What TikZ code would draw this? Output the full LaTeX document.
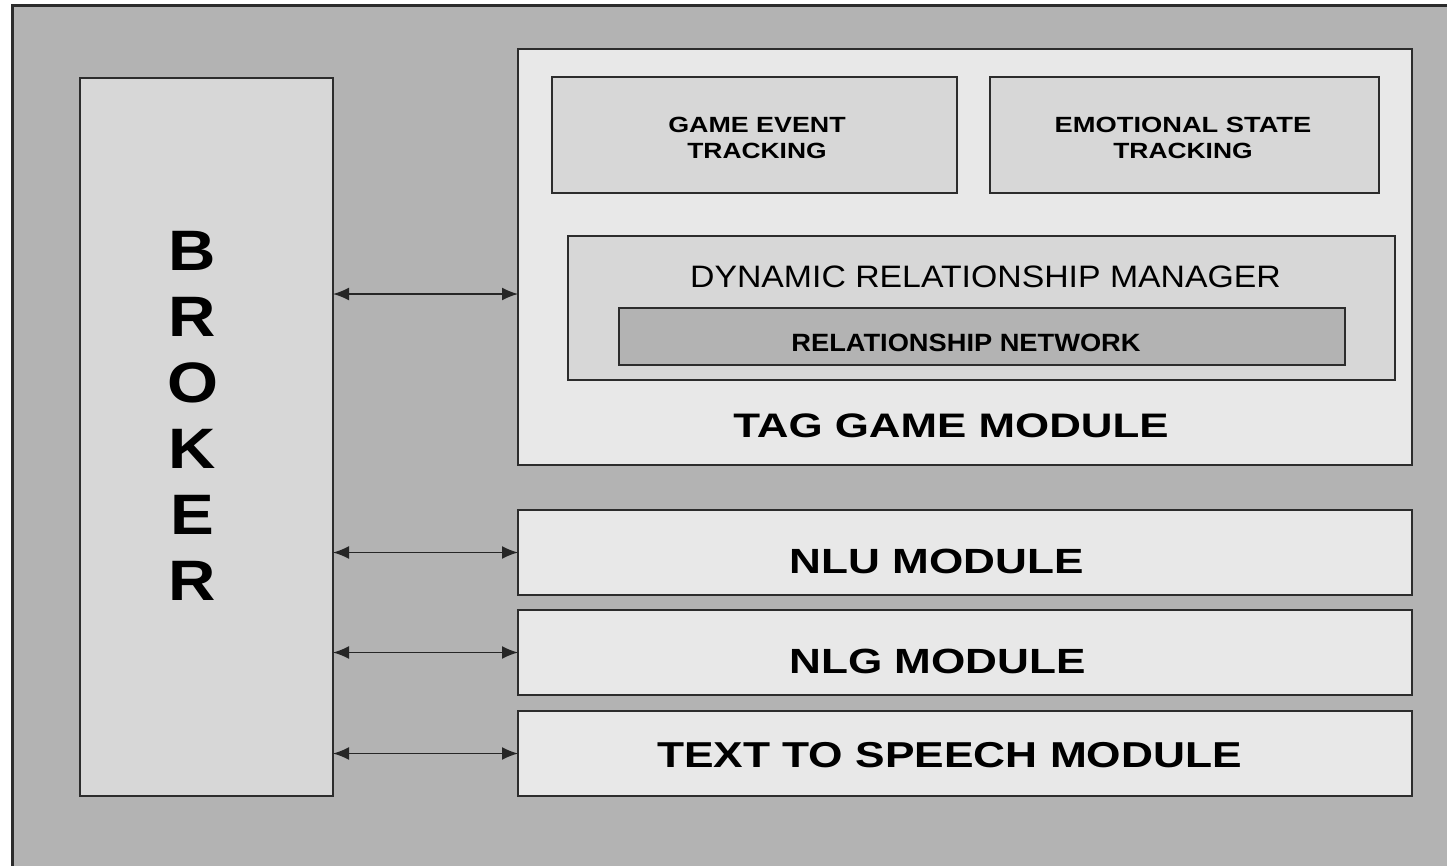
\documentclass[tikz,border=0pt]{standalone}
\usepackage{fontspec}
\setmainfont{Liberation Sans}
\usepackage{graphicx}
\usetikzlibrary{arrows.meta}
\definecolor{bgA}{HTML}{B3B3B3}
\definecolor{boxB}{HTML}{D7D7D7}
\definecolor{boxL}{HTML}{E8E8E8}
\definecolor{edgeC}{HTML}{2C2C2C}
\newcommand{\hs}[2]{\scalebox{#1}[1]{#2}}
\begin{document}
\begin{tikzpicture}[x=1pt,y=-1pt,
  box/.style={draw=edgeC, line width=2.8pt, anchor=north west, inner sep=0pt, outer sep=0pt},
  lab/.style={anchor=base, inner sep=0pt, text=black},
  lab2/.style={anchor=north, inner sep=0pt, text=black, align=center},
  link/.style={{Latex[length=16pt,width=13pt]}-{Latex[length=16pt,width=13pt]}, line width=1.6pt, draw=black!85}
]
\useasboundingbox (0,0) rectangle (1447,865);
\fill[white] (0,0) rectangle (1447,865);
\begin{scope}
\clip (0,0) rectangle (1447,865);
\draw[fill=bgA, draw=edgeC, line width=3pt] (12.5,5.5) rectangle (1480,900);
\end{scope}

% boxes
\node[box, fill=boxB, minimum width=253pt, minimum height=718pt] (broker) at (80,78) {};
\node[box, fill=boxL, minimum width=894pt, minimum height=416pt] (tag) at (518,49) {};
\node[box, fill=boxB, minimum width=405pt, minimum height=116pt] (get) at (552,77) {};
\node[box, fill=boxB, minimum width=389pt, minimum height=116pt] (est) at (990,77) {};
\node[box, fill=boxB, minimum width=827pt, minimum height=144pt] (drm) at (568,236) {};
\node[box, fill=bgA, minimum width=726pt, minimum height=57pt] (rn) at (619,308) {};
\node[box, fill=boxL, minimum width=894pt, minimum height=85pt] (nlu) at (518,510) {};
\node[box, fill=boxL, minimum width=894pt, minimum height=85pt] (nlg) at (518,610) {};
\node[box, fill=boxL, minimum width=894pt, minimum height=85pt] (tts) at (518,711) {};

% broker letters
\foreach \L/\yy [count=\i] in {B/270,R/336,O/402,K/468,E/534,R/600}
  \node[lab, font=\bfseries\fontsize{57}{60}\selectfont] (bk\i) at (192.5,\yy) {\hs{1.15}{\L}};

% labels
\node[lab2, font=\bfseries\fontsize{22}{26}\selectfont] (getl) at (757,116.5) {\hs{1.22}{GAME EVENT}\\\hs{1.2}{TRACKING}};
\node[lab2, font=\bfseries\fontsize{22}{26}\selectfont] (estl) at (1183,116.5) {\hs{1.24}{EMOTIONAL STATE}\\\hs{1.2}{TRACKING}};
\node[lab, font=\fontsize{31}{34}\selectfont] (drml) at (985.5,287) {\hs{1.09}{DYNAMIC RELATIONSHIP MANAGER}};
\node[lab, font=\bfseries\fontsize{25}{28}\selectfont] (rnl) at (966,351) {\hs{1.09}{RELATIONSHIP NETWORK}};
\node[lab, font=\bfseries\fontsize{34}{38}\selectfont] (tagl) at (951,437.5) {\hs{1.29}{TAG GAME MODULE}};
\node[lab, font=\bfseries\fontsize{35}{38}\selectfont] (nlul) at (936.5,573.5) {\hs{1.26}{NLU MODULE}};
\node[lab, font=\bfseries\fontsize{35}{38}\selectfont] (nlgl) at (937.5,673) {\hs{1.26}{NLG MODULE}};
\node[lab, font=\bfseries\fontsize{36}{38}\selectfont] (ttsl) at (949.5,767.5) {\hs{1.23}{TEXT TO SPEECH MODULE}};

% connectors
\coordinate (a1) at (0,294);
\draw[link] (broker.east |- a1) -- (tag.west |- a1);
\draw[link] (broker.east |- nlu.west) -- (nlu.west);
\draw[link] (broker.east |- nlg.west) -- (nlg.west);
\draw[link] (broker.east |- tts.west) -- (tts.west);
\end{tikzpicture}
\end{document}
